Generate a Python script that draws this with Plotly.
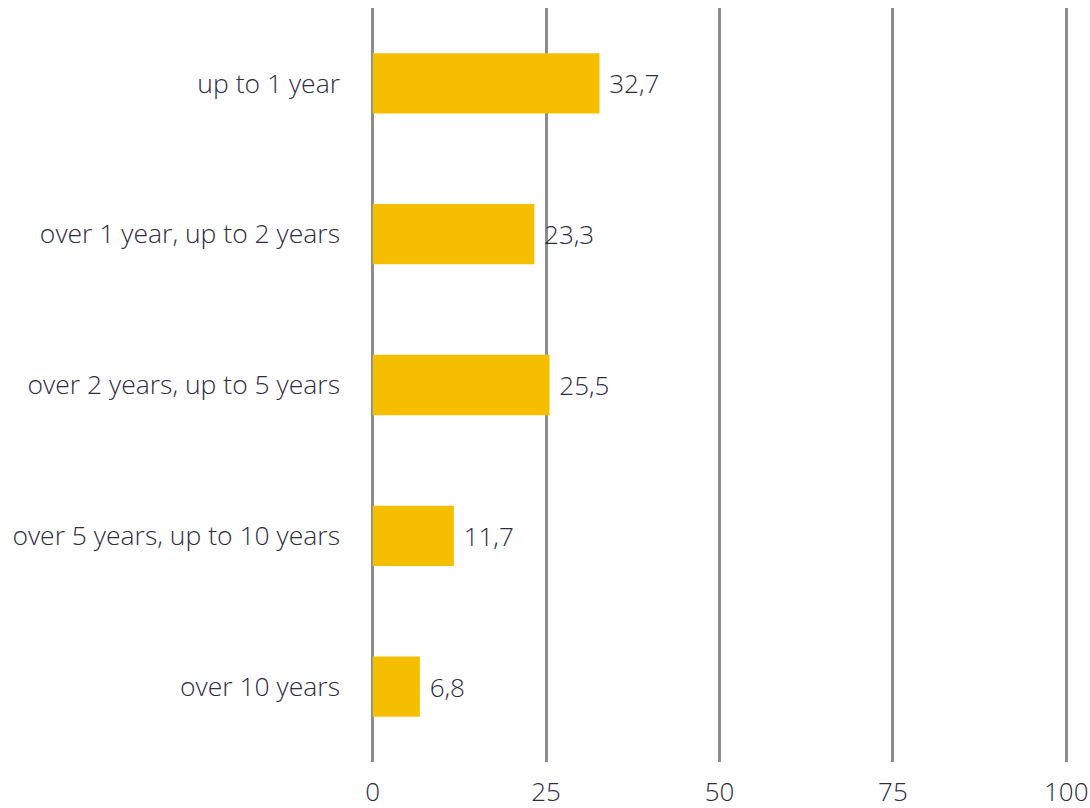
import plotly.graph_objects as go

categories = [
    "up to 1 year",
    "over 1 year, up to 2 years",
    "over 2 years, up to 5 years",
    "over 5 years, up to 10 years",
    "over 10 years",
]
values = [32.7, 23.3, 25.5, 11.7, 6.8]
x_ticks = [0, 25, 50, 75, 100]

text_color = "#2e2c3f"
font_family = "Open Sans"
font_size = 26
pad = 0.25  # small range padding so the edge grid lines (0 and 100) stay visible

fig = go.Figure(
    go.Bar(
        x=values,
        y=categories,
        orientation="h",
        marker=dict(color="#f5bf00", line=dict(width=0)),
        text=[" " + f"{v:.1f}".replace(".", ",") for v in values],
        textposition="outside",
        textfont=dict(family=font_family, size=font_size, color=text_color, weight=300),
        cliponaxis=False,
    )
)

px_per_unit = 693 / 100
fig.update_layout(
    width=1090,
    height=808,
    margin=dict(l=373 - pad * px_per_unit, r=24 - pad * px_per_unit, t=8, b=46),
    plot_bgcolor="white",
    paper_bgcolor="white",
    bargap=0.6,
    showlegend=False,
    font=dict(family=font_family, size=font_size, color=text_color, weight=300),
)

fig.update_xaxes(
    range=[-pad, 100 + pad],
    tickvals=x_ticks,
    ticktext=[str(t) for t in x_ticks],
    showgrid=True,
    gridcolor="#8c8c8c",
    gridwidth=2.5,
    zeroline=False,
    showline=False,
    ticks="",
    automargin=False,
    ticklabelstandoff=12,
    tickfont=dict(family=font_family, size=font_size, color=text_color, weight=300),
)

fig.update_yaxes(
    categoryorder="array",
    categoryarray=categories[::-1],
    showgrid=False,
    zeroline=False,
    showline=False,
    ticks="",
    automargin=False,
    ticklabelstandoff=30,
    tickfont=dict(family=font_family, size=26.5, color=text_color, weight=300),
)

fig.write_html("out.html")
